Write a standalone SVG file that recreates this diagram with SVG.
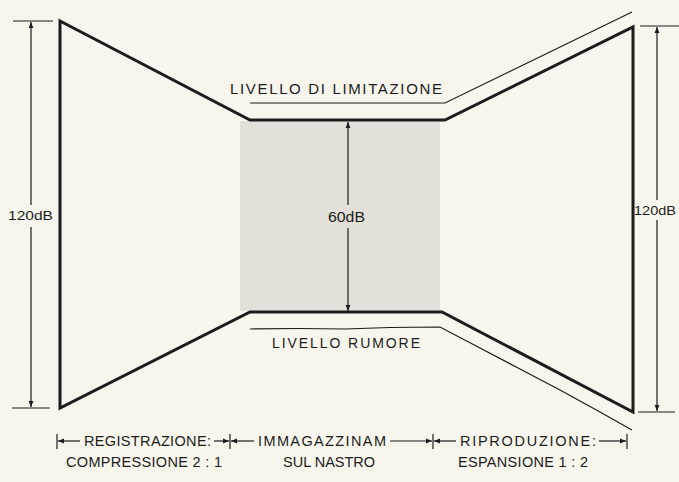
<svg xmlns="http://www.w3.org/2000/svg" width="679" height="482" viewBox="0 0 679 482">
<defs>
<style>
.thick{fill:none;stroke:#1c1c1c;stroke-width:3;stroke-linejoin:miter}
.thin{fill:none;stroke:#1c1c1c;stroke-width:1.2}
.dim{fill:none;stroke:#1c1c1c;stroke-width:1.2}
.lbl{font-family:"Liberation Sans",Arial,sans-serif;fill:#1c1c1c}
.bt{font-size:14.5px}
</style>
<marker id="ah" viewBox="0 0 10 10" refX="10" refY="5" markerWidth="7" markerHeight="6" markerUnits="userSpaceOnUse" orient="auto">
<path d="M0,1 L10,5 L0,9 Z" fill="#1c1c1c"/>
</marker>
</defs>
<rect width="679" height="482" fill="#f7f5ec"/>
<rect x="240" y="121" width="200" height="190" fill="#e2e0d9"/>

<g id="shape">
<polygon class="thick" points="60,21 250,120 445,120 633,27 633,412 442,312 250,312 60,408"/>
</g>
<g id="limit">
<path class="thin" d="M250,103 L445,103 L632,12"/>
<text class="lbl" x="230" y="94" font-size="15" textLength="212" lengthAdjust="spacing">LIVELLO DI LIMITAZIONE</text>
</g>
<g id="noise">
<path class="thin" d="M250,329 L300,328.5 L345,329 L390,327.5 L440,327 L480,348 L520,369 L560,390 L600,412 L632,430"/>
<text class="lbl" x="272" y="348" font-size="14" textLength="148" lengthAdjust="spacing">LIVELLO RUMORE</text>
</g>

<g id="connectors">
<!-- left 120dB -->
<path class="dim" d="M13,21 H53 M12,408 H50"/>
<path class="dim" d="M31,205 V22" marker-end="url(#ah)"/>
<path class="dim" d="M31,227 V407" marker-end="url(#ah)"/>
<!-- right 120dB -->
<path class="dim" d="M640,26 H679 M638,412 H675"/>
<path class="dim" d="M657,200 V27" marker-end="url(#ah)"/>
<path class="dim" d="M657,220 V411" marker-end="url(#ah)"/>
<!-- 60dB -->
<path class="dim" d="M348,205 V122" marker-end="url(#ah)"/>
<path class="dim" d="M348,228 V311" marker-end="url(#ah)"/>
<!-- bottom span arrows -->
<path class="dim" d="M57,434 V449 M230,434 V449 M433,434 V449 M627,434 V449"/>
<path class="dim" d="M80,441 H58" marker-end="url(#ah)"/>
<path class="dim" d="M214,441 H229" marker-end="url(#ah)"/>
<path class="dim" d="M254,441 H231" marker-end="url(#ah)"/>
<path class="dim" d="M390,441 H432" marker-end="url(#ah)"/>
<path class="dim" d="M456,441 H434" marker-end="url(#ah)"/>
<path class="dim" d="M599,441 H626" marker-end="url(#ah)"/>
</g>

<g id="labels">
<text class="lbl" x="8" y="220" font-size="13.5" textLength="45" lengthAdjust="spacingAndGlyphs">120dB</text>
<text class="lbl" x="634" y="215" font-size="13.5" textLength="42" lengthAdjust="spacingAndGlyphs">120dB</text>
<text class="lbl" x="328" y="222" font-size="14" textLength="37" lengthAdjust="spacingAndGlyphs">60dB</text>
<text class="lbl bt" x="84" y="446" textLength="127" lengthAdjust="spacing">REGISTRAZIONE:</text>
<text class="lbl bt" x="66" y="467" textLength="156" lengthAdjust="spacing">COMPRESSIONE 2 : 1</text>
<text class="lbl bt" x="258" y="446" textLength="128" lengthAdjust="spacing">IMMAGAZZINAM</text>
<text class="lbl bt" x="283" y="467">SUL NASTRO</text>
<text class="lbl bt" x="460" y="446" textLength="136" lengthAdjust="spacing">RIPRODUZIONE:</text>
<text class="lbl bt" x="458" y="467" textLength="130" lengthAdjust="spacing">ESPANSIONE 1 : 2</text>
</g>
</svg>
